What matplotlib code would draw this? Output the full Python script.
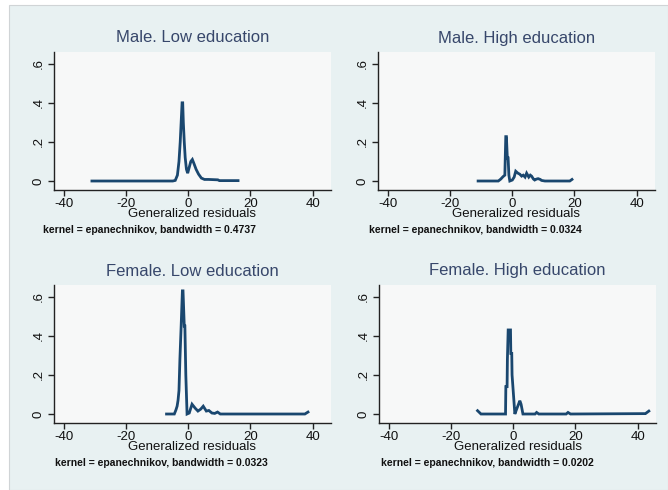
import matplotlib
matplotlib.use("Agg")
import matplotlib.pyplot as plt
from matplotlib.patches import Rectangle

plt.rcParams['font.family'] = ['Liberation Sans', 'DejaVu Sans']

W, H = 668, 490

titles = ["Male. Low education", "Male. High education",
          "Female. Low education", "Female. High education"]
notes = ["kernel = epanechnikov, bandwidth = 0.4737",
         "kernel = epanechnikov, bandwidth = 0.0324",
         "kernel = epanechnikov, bandwidth = 0.0323",
         "kernel = epanechnikov, bandwidth = 0.0202"]

x_ticks = [-40, -20, 0, 20, 40]
y_ticks = [0, 0.2, 0.4, 0.6]
y_ticklabels = ["0", ".2", ".4", ".6"]
x_label = "Generalized residuals"

male_low_x = [-31, -5, -4.2, -3.5, -3.0, -2.6, -2.3, -2.0, -1.8, -1.6, -1.3, -1.0,
              -0.6, -0.2, 0.3, 0.8, 1.3, 1.8, 2.5, 3.3, 4.2, 5.2, 6.5, 8, 9.5, 10, 16]
male_low_y = [0, 0, 0.003, 0.03, 0.1, 0.2, 0.3, 0.4, 0.4, 0.3, 0.2, 0.12,
              0.06, 0.04, 0.07, 0.1, 0.11, 0.09, 0.06, 0.035, 0.015, 0.008, 0.008,
              0.007, 0.006, 0.002, 0.002]

male_high_x = [-11, -4.5, -3.7, -3.0, -2.4, -2.1, -1.9, -1.6, -1.35, -1.1, -0.8, 0.0,
               0.6, 1.1, 1.8, 2.4, 3.0, 3.5, 4.1, 4.6, 5.3, 5.8, 6.2, 6.8, 7.2, 7.8,
               8.3, 9.0, 9.4, 10.5, 18.5, 19.2]
male_high_y = [0, 0, 0.01, 0.022, 0.03, 0.227, 0.227, 0.118, 0.118, 0.03, 0.0, 0.005,
               0.02, 0.05, 0.04, 0.035, 0.025, 0.03, 0.02, 0.04, 0.02, 0.03, 0.025, 0.01,
               0.005, 0.01, 0.012, 0.008, 0.003, 0.0, 0.0, 0.008]

female_low_x = [-7, -4.5, -4.0, -3.6, -3.3, -3.0, -2.7, -2.3, -1.9, -1.7, -1.3, -1.1,
                -0.8, -0.4, 0.3, 1.2, 2.2, 3.1, 4.0, 4.8, 5.8, 6.6, 7.6, 8.5, 9.4,
                10.3, 37.5, 38.5]
female_low_y = [0, 0, 0.02, 0.04, 0.07, 0.12, 0.28, 0.45, 0.63, 0.63, 0.45, 0.45,
                0.2, 0.0, 0.005, 0.05, 0.03, 0.015, 0.025, 0.04, 0.015, 0.018, 0.005, 0.003,
                0.01, 0.0, 0.0, 0.01]

female_high_x = [-11.5, -10.4, -2.5, -2.4, -2.0, -1.9, -1.65, -0.9, -0.8, -0.5, -0.4,
                 0.5, 1.2, 2.1, 2.5, 3.1, 7.0, 7.5, 8.2, 17.0, 17.6, 18.4, 42.5, 43.6]
female_high_y = [0.017, 0.0, 0.0, 0.14, 0.14, 0.28, 0.43, 0.43, 0.31, 0.31, 0.2,
                 0.0, 0.03, 0.068, 0.05, 0.0, 0.0, 0.008, 0.0, 0.0, 0.008, 0.0, 0.002, 0.015]

series_x = [male_low_x, male_high_x, female_low_x, female_high_x]
series_y = [male_low_y, male_high_y, female_low_y, female_high_y]

bg = "#e8f1f2"
face = "#f7f8f8"
line_color = "#1a476f"
title_color = "#37476b"

fig = plt.figure(figsize=(W / 100, H / 100), dpi=100)
fig.patch.set_facecolor("white")
fig.patches.append(Rectangle((9 / W, 0), 1 - 9 / W, 1 - 5 / H, transform=fig.transFigure,
                             facecolor=bg, edgecolor="#d0d4d6", linewidth=0.8, zorder=-10))

ax_w, ax_h = 277, 138
origins = [(54, 52), (378, 52), (54, 285), (379, 285)]
note_left = [43, 369, 55, 381]

for i in range(4):
    L, T = origins[i]
    ax = fig.add_axes([L / W, 1 - (T + ax_h) / H, ax_w / W, ax_h / H])
    ax.set_facecolor(face)
    ax.plot(series_x[i], series_y[i], color=line_color, lw=2.0, solid_joinstyle='miter')
    ax.set_xlim(-43.2, 45.9)
    ax.set_ylim(-0.046, 0.66)
    ax.set_xticks(x_ticks)
    ax.set_xticklabels([str(v) for v in x_ticks])
    ax.set_yticks(y_ticks)
    ax.set_yticklabels(y_ticklabels, rotation=90, va='center')
    for s in ["top", "right"]:
        ax.spines[s].set_visible(False)
    for s in ["left", "bottom"]:
        ax.spines[s].set_color("#222222")
        ax.spines[s].set_linewidth(1.0)
    ax.tick_params(axis='both', length=4.5, width=1.0, color="#222222", labelsize=9.5,
                   labelcolor="#111111")
    ax.tick_params(axis='x', pad=1.0)
    ax.tick_params(axis='y', pad=2)
    cx = (L + ax_w / 2) / W
    fig.text(cx, 1 - (T - 14) / H, titles[i], ha='center', va='center',
             fontsize=12, color=title_color)
    fig.text(cx, 1 - (T + ax_h + 24) / H, x_label, ha='center', va='center',
             fontsize=9.5, color="#111111")
    fig.text(note_left[i] / W, 1 - (T + ax_h + 40) / H, notes[i], ha='left', va='center',
             fontsize=7.5, fontweight='bold', color="#111111")

fig.savefig("out.png", dpi=100, facecolor=fig.get_facecolor())
